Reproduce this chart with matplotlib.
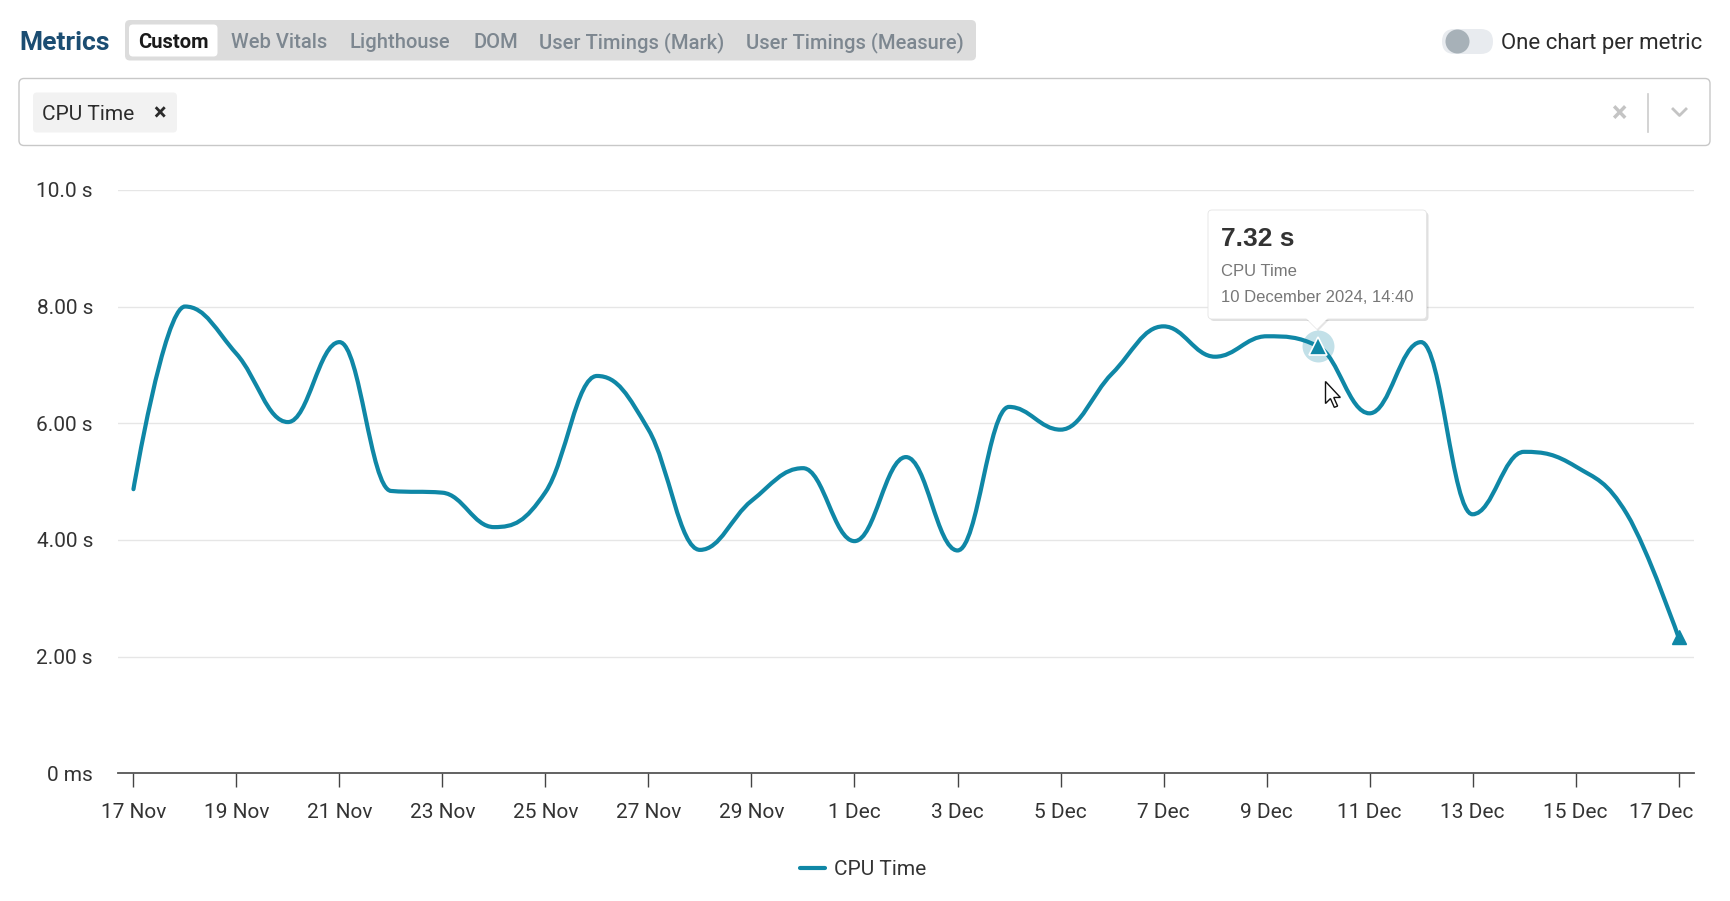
import matplotlib
matplotlib.use("Agg")
import matplotlib.pyplot as plt
import numpy as np
from matplotlib.path import Path
from matplotlib.patches import PathPatch, FancyBboxPatch, Circle, Polygon
from matplotlib.transforms import ScaledTranslation

plt.rcParams['font.family'] = ['Roboto', 'DejaVu Sans']

# data: CPU time per day, 17 Nov .. 17 Dec 2024
days = np.arange(31)
cpu_time = [4.87, 8.00, 7.19, 6.02, 7.39, 4.84, 4.81, 4.22, 4.82, 6.81,
            5.89, 3.83, 4.67, 5.23, 3.98, 5.42, 3.82, 6.28, 5.89, 6.85,
            7.66, 7.14, 7.49, 7.32, 6.17, 7.39, 4.44, 5.51, 5.26, 4.44, 2.33]
tick_days = list(range(0, 31, 2))
tick_labels = ['17 Nov', '19 Nov', '21 Nov', '23 Nov', '25 Nov', '27 Nov', '29 Nov',
               '1 Dec', '3 Dec', '5 Dec', '7 Dec', '9 Dec', '11 Dec', '13 Dec',
               '15 Dec', '17 Dec']
y_ticks = [0, 2, 4, 6, 8, 10]
y_labels = ['0 ms', '2.00 s', '4.00 s', '6.00 s', '8.00 s', '10.0 s']
tabs = ['Custom', 'Web Vitals', 'Lighthouse', 'DOM', 'User Timings (Mark)', 'User Timings (Measure)']
tab_x = [173, 279, 399.5, 495.5, 632, 855]
hover_idx = 23

LINE = '#0f87a6'
W, H = 1730, 901
TIP_FONT = ['Liberation Sans', 'DejaVu Sans']


def spline_path(x, y, smoothing=1.5):
    # highcharts-style spline control points
    x = np.asarray(x, float)
    y = np.asarray(y, float)
    n = len(x)
    lcx, lcy, rcx, rcy = x.copy(), y.copy(), x.copy(), y.copy()
    d = smoothing + 1
    for i in range(1, n - 1):
        lx = (smoothing * x[i] + x[i - 1]) / d
        ly = (smoothing * y[i] + y[i - 1]) / d
        rx = (smoothing * x[i] + x[i + 1]) / d
        ry = (smoothing * y[i] + y[i + 1]) / d
        corr = (ry - ly) * (rx - x[i]) / (rx - lx) + y[i] - ry
        ly += corr
        ry += corr
        if ly > y[i - 1] and ly > y[i]:
            ly = max(y[i - 1], y[i]); ry = 2 * y[i] - ly
        elif ly < y[i - 1] and ly < y[i]:
            ly = min(y[i - 1], y[i]); ry = 2 * y[i] - ly
        if ry > y[i + 1] and ry > y[i]:
            ry = max(y[i + 1], y[i]); ly = 2 * y[i] - ry
        elif ry < y[i + 1] and ry < y[i]:
            ry = min(y[i + 1], y[i]); ly = 2 * y[i] - ry
        lcx[i], lcy[i], rcx[i], rcy[i] = lx, ly, rx, ry
    verts = [(x[0], y[0])]
    codes = [Path.MOVETO]
    for i in range(1, n):
        verts += [(rcx[i - 1], rcy[i - 1]), (lcx[i], lcy[i]), (x[i], y[i])]
        codes += [Path.CURVE4] * 3
    return Path(verts, codes)


fig = plt.figure(figsize=(W / 100, H / 100), dpi=100)

# background overlay in pixel coords (top-left origin)
bg = fig.add_axes([0, 0, 1, 1], zorder=0)
bg.set_xlim(0, W); bg.set_ylim(H, 0); bg.axis('off')

hy = 42.5  # header text centre
bg.text(19, hy, 'Metrics', fontsize=19, fontweight='bold', color='#1b4d72', va='center')
bg.add_patch(FancyBboxPatch((125, 20), 851, 40.5, boxstyle='round,pad=0,rounding_size=5',
                            fc='#dcdcdc', ec='none'))
bg.add_patch(FancyBboxPatch((129, 24.5), 88.5, 32, boxstyle='round,pad=0,rounding_size=4',
                            fc='white', ec='none'))
for i, (t, x) in enumerate(zip(tabs, tab_x)):
    bg.text(x, hy, t, fontsize=14.5, fontweight='bold' if i == 0 else 'medium',
            color='#1a1a1a' if i == 0 else '#7d8790', ha='center', va='center')

# toggle
bg.add_patch(FancyBboxPatch((1442, 29), 51, 25, boxstyle='round,pad=0,rounding_size=12.5',
                            fc='#e8ebef', ec='none'))
bg.add_patch(Circle((1457.5, 41.5), 12, fc='#a7b1b8', ec='none'))
bg.text(1501, 43.5, 'One chart per metric', fontsize=16, color='#2b2b2b', va='center')

# select box
bg.add_patch(FancyBboxPatch((19, 78.5), 1691, 67, boxstyle='round,pad=0,rounding_size=5',
                            fc='white', ec='#c8c8c8', lw=1))
bg.add_patch(FancyBboxPatch((33, 92.5), 144, 40, boxstyle='round,pad=0,rounding_size=4',
                            fc='#f2f2f2', ec='none'))
bg.text(42, 115, 'CPU Time', fontsize=15, color='#2b2b2b', va='center')
bg.text(160, 114, '×', fontsize=17, fontweight='bold', color='#2b2b2b', va='center', ha='center')
bg.text(1619, 114, '×', fontsize=21, fontweight='bold', color='#c4c4c4', va='center', ha='center')
bg.plot([1648, 1648], [94, 132], color='#cccccc', lw=1.2)
bg.plot([1673, 1679.5, 1686], [109, 115.5, 109], color='#c4c4c4', lw=2)

# legend
bg.plot([800, 825], [867.5, 867.5], color=LINE, lw=3, solid_capstyle='round')
bg.text(834, 869.5, 'CPU Time', fontsize=15, color='#333333', va='center')

# chart axes
ax = fig.add_axes([118 / W, 1 - 773.4 / H, 1576 / W, (773.4 - 189.8) / H], zorder=1)
ax.patch.set_alpha(0)
ax.set_xlim(-0.30, 30.30)
ax.set_ylim(0, 10)
for s in ['top', 'right', 'left']:
    ax.spines[s].set_visible(False)
ax.spines['bottom'].set_color('#555555')
ax.spines['bottom'].set_linewidth(1.3)
ax.set_yticks(y_ticks)
ax.set_yticklabels(y_labels)
ax.set_xticks(tick_days)
ax.set_xticklabels(tick_labels)
ax.tick_params(axis='y', length=0, pad=18, labelsize=15, labelcolor='#333333')
ax.tick_params(axis='x', length=10, width=1, color='#444444', pad=11, labelsize=15,
               labelcolor='#333333')
# keep last label inside the plot area, as the original does
last = ax.get_xticklabels()[-1]
last.set_transform(last.get_transform() + ScaledTranslation(-0.17, 0, fig.dpi_scale_trans))
for v in y_ticks[1:]:
    ax.axhline(v, color='#e6e6e6', lw=1, zorder=0)

ax.add_patch(PathPatch(spline_path(days, cpu_time), fill=False, ec=LINE, lw=3,
                       capstyle='round', zorder=3))
# last point marker and hovered point
ax.plot(days[-1], cpu_time[-1], marker='^', ms=10, color=LINE, mec=LINE, zorder=4)
ax.plot(days[hover_idx], cpu_time[hover_idx], marker='o', ms=23, color=LINE, alpha=0.25,
        mec='none', zorder=4)
ax.plot(days[hover_idx], cpu_time[hover_idx], marker='^', ms=13, color=LINE, mec='white',
        mew=1.2, zorder=5)

# top overlay: tooltip and cursor
top = fig.add_axes([0, 0, 1, 1], zorder=2)
top.set_xlim(0, W); top.set_ylim(H, 0); top.axis('off')
top.add_patch(FancyBboxPatch((1210, 212), 218.5, 109, boxstyle='round,pad=0,rounding_size=4',
                             fc='#000000', ec='none', alpha=0.12))
top.add_patch(Polygon([(1307, 320), (1329, 320), (1318, 331)], closed=True, fc='#000000',
                      ec='none', alpha=0.10))
top.add_patch(FancyBboxPatch((1208, 210), 218.5, 109, boxstyle='round,pad=0,rounding_size=4',
                             fc='white', ec='#e4e4e4', lw=0.6))
top.add_patch(Polygon([(1306, 318), (1328, 318), (1317, 329)], closed=True, fc='white',
                      ec='none'))
top.text(1221, 239, '7.32 s', fontsize=19, fontweight='bold', color='#333333', va='center',
         family=TIP_FONT)
top.text(1221, 271, 'CPU Time', fontsize=12, color='#777777', va='center', family=TIP_FONT)
top.text(1221, 297, '10 December 2024, 14:40', fontsize=12, color='#777777', va='center',
         family=TIP_FONT)

cur = np.array([(0, 0), (0, 20), (4.5, 15.5), (8, 23.5), (11, 22.3), (7.5, 14.5), (13.5, 14.5)])
top.add_patch(Polygon(cur * 1.1 + [1325.5, 381.5], closed=True, fc='white', ec='#111111', lw=1))

fig.savefig('out.png', dpi=100)
